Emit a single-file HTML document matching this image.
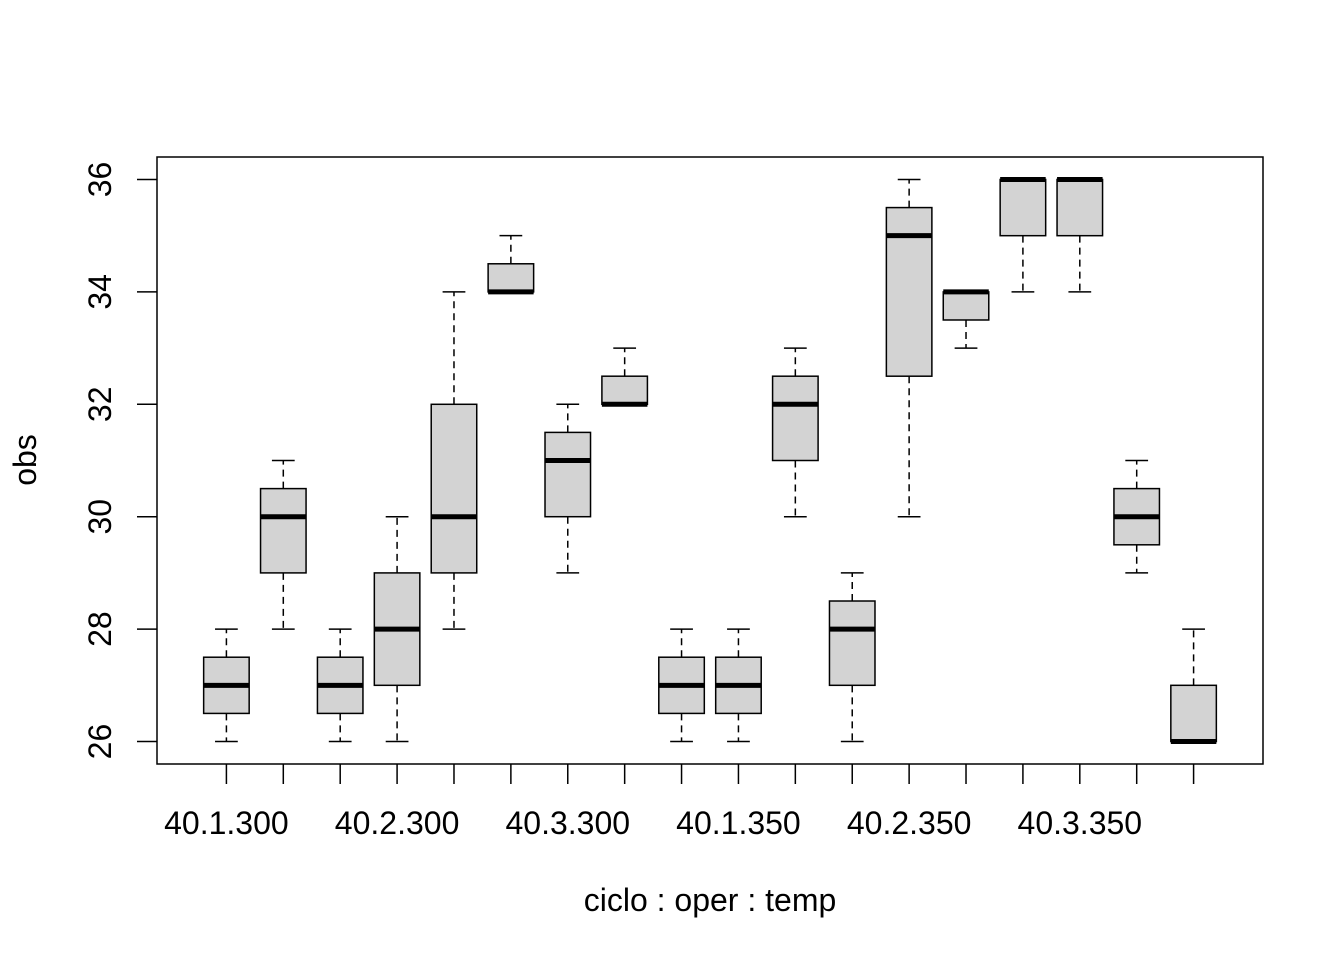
<!DOCTYPE html>
<html><head><meta charset="utf-8"><style>
html,body{margin:0;padding:0;background:#fff;}
svg text{font-family:"Liberation Sans",Arial,sans-serif;fill:#000;}
</style></head><body>
<svg id="chart" width="1344" height="960" viewBox="0 0 1344 960" xmlns="http://www.w3.org/2000/svg">
<rect x="157" y="157" width="1106" height="607" fill="none" stroke="#000" stroke-width="1.5"/>
<g id="boxes"></g>
<g id="xaxis"></g>
<g id="yaxis"></g>
<text x="710" y="911" font-size="32" text-anchor="middle">ciclo : oper : temp</text>
<text x="36" y="460" font-size="32" text-anchor="middle" transform="rotate(-90 36 460)">obs</text>
</svg>
<script>
const groupLabels = ["40.1.300","40.2.300","40.3.300","40.1.350","40.2.350","40.3.350"];
const lowWhisker = [26,28,26,26,28,34,29,32,26,26,30,26,30,33,34,34,29,26];
const q1 =         [26.5,29,26.5,27,29,34,30,32,26.5,26.5,31,27,32.5,33.5,35,35,29.5,26];
const medians =    [27,30,27,28,30,34,31,32,27,27,32,28,35,34,36,36,30,26];
const q3 =         [27.5,30.5,27.5,29,32,34.5,31.5,32.5,27.5,27.5,32.5,28.5,35.5,34,36,36,30.5,27];
const highWhisker =[28,31,28,30,34,35,32,33,28,28,33,29,36,34,36,36,31,28];
const yTicks = [26,28,30,32,34,36];

const NS="http://www.w3.org/2000/svg";
const n = medians.length;
const xs = i => 157 + (i + 1 - (0.5 - 0.04*n)) * (1106 / (n*1.08));
const y0 = 26, y1 = 36, pad = (y1-y0)*0.04;
const ys = v => 764 - (v - (y0 - pad)) / ((y1 - y0) + 2*pad) * 607;
function mk(tag, attrs, parent){const e=document.createElementNS(NS,tag);for(const k in attrs)e.setAttribute(k,attrs[k]);parent.appendChild(e);return e;}
const gb=document.getElementById('boxes'), gx=document.getElementById('xaxis'), gy=document.getElementById('yaxis');
const hw = 0.4*(1106/(n*1.08)), cw = hw/2;
for(let i=0;i<n;i++){
  const x=xs(i);
  const g=mk('g',{},gb);
  
  
  mk('line',{x1:x,x2:x,y1:ys(q3[i]),y2:ys(highWhisker[i]),stroke:'#000','stroke-width':1.5,'stroke-dasharray':'7,5'},g);
  mk('line',{x1:x,x2:x,y1:ys(q1[i]),y2:ys(lowWhisker[i]),stroke:'#000','stroke-width':1.5,'stroke-dasharray':'7,5'},g);
  mk('line',{x1:x-cw,x2:x+cw,y1:ys(highWhisker[i]),y2:ys(highWhisker[i]),stroke:'#000','stroke-width':1.5},g);
  mk('line',{x1:x-cw,x2:x+cw,y1:ys(lowWhisker[i]),y2:ys(lowWhisker[i]),stroke:'#000','stroke-width':1.5},g);
  mk('rect',{x:x-hw,y:ys(q3[i]),width:2*hw,height:Math.max(0,ys(q1[i])-ys(q3[i])),fill:'#d3d3d3',stroke:'#000','stroke-width':1.5},g);
  mk('line',{x1:x-hw,x2:x+hw,y1:ys(medians[i]),y2:ys(medians[i]),stroke:'#000','stroke-width':5},g);
  mk('line',{x1:x,x2:x,y1:764,y2:784,stroke:'#000','stroke-width':1.5},gx);
}
groupLabels.forEach((l,k)=>{
  const t=mk('text',{x:xs(k*3),y:834,'font-size':32,'text-anchor':'middle'},gx);
  
  
  t.textContent=l;
});
yTicks.forEach(v=>{
  const y=ys(v);
  mk('line',{x1:137,x2:157,y1:y,y2:y,stroke:'#000','stroke-width':1.5},gy);
  const t=mk('text',{x:111,y:y,'font-size':32,'text-anchor':'middle',transform:`rotate(-90 111 ${y})`},gy);
  
  
  t.textContent=v;
});
</script>
</body></html>
